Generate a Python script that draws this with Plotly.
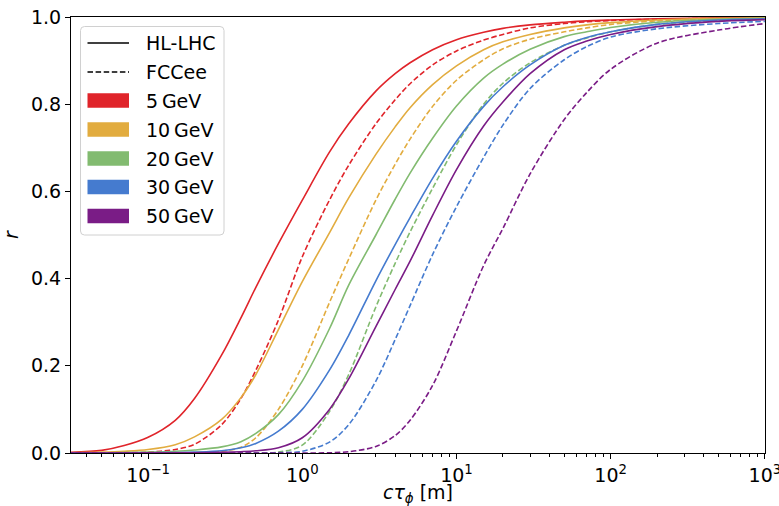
import plotly.graph_objects as go

# decay length c*tau [m] at which curves are read
ctau = [0.03, 0.05, 0.07, 0.1, 0.15, 0.2, 0.3, 0.4, 0.5, 0.7, 1, 1.5, 2, 3, 4, 5, 7,
        10, 15, 20, 30, 50, 70, 100, 200, 500, 1000]

masses = ["5\u2009GeV", "10\u2009GeV", "20\u2009GeV", "30\u2009GeV", "50\u2009GeV"]
colors = ["#e0242a", "#e2ac3f", "#82bb70", "#457bcf", "#7a1c86"]

# HL-LHC (solid)
hl_5 = [0.001, 0.006, 0.017, 0.036, 0.075, 0.125, 0.225, 0.31, 0.38, 0.48, 0.58, 0.69, 0.755,
        0.83, 0.87, 0.895, 0.925, 0.948, 0.965, 0.974, 0.982, 0.988, 0.991, 0.993, 0.996, 0.998, 0.999]
hl_10 = [0.0005, 0.002, 0.004, 0.008, 0.019, 0.037, 0.077, 0.127, 0.18, 0.283, 0.393, 0.505, 0.585,
         0.685, 0.748, 0.792, 0.845, 0.888, 0.925, 0.943, 0.96, 0.975, 0.982, 0.987, 0.993, 0.997, 0.998]
hl_20 = [0, 0.0003, 0.001, 0.002, 0.004, 0.007, 0.014, 0.026, 0.045, 0.088, 0.165, 0.285, 0.385,
         0.5, 0.582, 0.642, 0.722, 0.796, 0.86, 0.892, 0.926, 0.955, 0.966, 0.976, 0.988, 0.995, 0.997]
hl_30 = [0, 0, 0.0003, 0.0006, 0.0012, 0.002, 0.005, 0.012, 0.022, 0.05, 0.1, 0.19, 0.27,
         0.395, 0.478, 0.54, 0.63, 0.715, 0.795, 0.84, 0.89, 0.935, 0.953, 0.966, 0.983, 0.993, 0.996]
hl_50 = [0, 0, 0, 0.0002, 0.0004, 0.0007, 0.0015, 0.003, 0.005, 0.012, 0.035, 0.1, 0.17,
         0.29, 0.375, 0.44, 0.545, 0.65, 0.75, 0.805, 0.87, 0.925, 0.945, 0.96, 0.978, 0.99, 0.994]

# FCCee (dashed)
fcc_5 = [0, 0, 0.0005, 0.002, 0.008, 0.02, 0.065, 0.125, 0.19, 0.305, 0.45, 0.58, 0.66,
         0.755, 0.81, 0.847, 0.89, 0.922, 0.947, 0.96, 0.975, 0.985, 0.989, 0.992, 0.995, 0.997, 0.998]
fcc_10 = [0, 0, 0, 0, 0.0005, 0.001, 0.004, 0.013, 0.035, 0.1, 0.2, 0.345, 0.445,
          0.58, 0.662, 0.72, 0.795, 0.855, 0.902, 0.927, 0.949, 0.966, 0.975, 0.983, 0.991, 0.995, 0.997]
fcc_20 = [0, 0, 0, 0, 0, 0, 0, 0, 0.0005, 0.002, 0.018, 0.095, 0.18,
          0.335, 0.435, 0.507, 0.607, 0.707, 0.8, 0.848, 0.895, 0.935, 0.952, 0.966, 0.983, 0.992, 0.995]
fcc_30 = [0, 0, 0, 0, 0, 0, 0, 0, 0, 0.0005, 0.004, 0.025, 0.065,
          0.165, 0.26, 0.338, 0.455, 0.565, 0.678, 0.752, 0.836, 0.902, 0.932, 0.954, 0.973, 0.985, 0.99]
fcc_50 = [0, 0, 0, 0, 0, 0, 0, 0, 0, 0, 0, 0.0005, 0.003,
          0.015, 0.04, 0.075, 0.155, 0.28, 0.43, 0.515, 0.64, 0.765, 0.827, 0.88, 0.94, 0.97, 0.985]

hl_series = [hl_5, hl_10, hl_20, hl_30, hl_50]
fcc_series = [fcc_5, fcc_10, fcc_20, fcc_30, fcc_50]

FONT = "DejaVu Sans"
W, H = 779, 506
L, R, T, B = 71, 14, 17, 53
PW, PH = W - L - R, H - T - B
DASH = "5.5px,2.6px"

fig = go.Figure()
for m, c, hl, fc in zip(masses, colors, hl_series, fcc_series):
    fig.add_trace(go.Scatter(x=ctau, y=hl, mode="lines", name=m + " HL-LHC",
                             line=dict(color=c, width=1.6, shape="spline", smoothing=0.9),
                             showlegend=False))
    fig.add_trace(go.Scatter(x=ctau, y=fc, mode="lines", name=m + " FCCee",
                             line=dict(color=c, width=1.6, dash=DASH, shape="spline", smoothing=0.9),
                             showlegend=False))


def fx(px):
    return (px - L) / PW


def fy(py):
    return (H - B - py) / PH


# legend (drawn manually to mimic matplotlib style)
x0, x1, y0, y1, rad = 80.5, 224, 26.5, 235, 4
rx, ry = rad / PW, rad / PH
path = (f"M {fx(x0)+rx},{fy(y0)} L {fx(x1)-rx},{fy(y0)} Q {fx(x1)},{fy(y0)} {fx(x1)},{fy(y0)-ry} "
        f"L {fx(x1)},{fy(y1)+ry} Q {fx(x1)},{fy(y1)} {fx(x1)-rx},{fy(y1)} "
        f"L {fx(x0)+rx},{fy(y1)} Q {fx(x0)},{fy(y1)} {fx(x0)},{fy(y1)+ry} "
        f"L {fx(x0)},{fy(y0)-ry} Q {fx(x0)},{fy(y0)} {fx(x0)+rx},{fy(y0)} Z")
shapes = [dict(type="path", path=path, xref="paper", yref="paper",
               fillcolor="rgba(255,255,255,0.8)", line=dict(color="#d0d0d0", width=1))]
annotations = []
entry_y = [43, 72, 100.5, 129.5, 158.5, 187, 216]
labels = ["HL-LHC", "FCCee"] + masses
for i, (yy, lab) in enumerate(zip(entry_y, labels)):
    if i == 0:
        shapes.append(dict(type="line", xref="paper", yref="paper", x0=fx(87.5), x1=fx(129),
                           y0=fy(yy), y1=fy(yy), line=dict(color="black", width=1.6)))
    elif i == 1:
        shapes.append(dict(type="line", xref="paper", yref="paper", x0=fx(87.5), x1=fx(129),
                           y0=fy(yy), y1=fy(yy), line=dict(color="black", width=1.6, dash=DASH)))
    else:
        shapes.append(dict(type="rect", xref="paper", yref="paper", x0=fx(87.5), x1=fx(129),
                           y0=fy(yy - 7.2), y1=fy(yy + 7.2), fillcolor=colors[i - 2], line=dict(width=0)))
    annotations.append(dict(text=lab, xref="paper", yref="paper", x=fx(144), y=fy(yy),
                            xanchor="left", yanchor="middle", showarrow=False,
                            font=dict(family=FONT, size=19, color="black")))

major_x = [0.1, 1, 10, 100, 1000]
major_x_text = ["10<sup>\u22121</sup>", "10<sup>0</sup>", "10<sup>1</sup>", "10<sup>2</sup>", "10<sup>3</sup>"]
minor_x = [k * 10.0 ** e for e in range(-2, 3) for k in range(2, 10) if 0.0316 < k * 10.0 ** e < 1000]
y_ticks = [0, 0.2, 0.4, 0.6, 0.8, 1.0]
y_text = ["0.0", "0.2", "0.4", "0.6", "0.8", "1.0"]

fig.update_layout(
    width=W, height=H,
    margin=dict(l=L, r=R, t=T, b=B, autoexpand=False),
    plot_bgcolor="white", paper_bgcolor="white",
    font=dict(family=FONT, size=19, color="black"),
    shapes=shapes, annotations=annotations,
    showlegend=False,
    xaxis=dict(type="log", range=[-1.5, 3.0008], tickvals=major_x, ticktext=major_x_text,
               ticks="outside", ticklen=5, tickwidth=1, tickcolor="black", ticklabeloverflow="allow",
               minor=dict(tickvals=minor_x, ticks="outside", ticklen=3, tickwidth=0.8, tickcolor="black", showgrid=False),
               showgrid=False, zeroline=False, showline=True, linecolor="black", linewidth=1, mirror=True,
               tickfont=dict(family=FONT, size=19),
               title=dict(text="<i>c\u03c4</i><sub><i>\u03d5</i></sub> [m]", font=dict(family=FONT, size=19), standoff=4)),
    yaxis=dict(range=[0, 1.0], tickvals=y_ticks, ticktext=y_text,
               ticks="outside", ticklen=5, tickwidth=1, tickcolor="black",
               showgrid=False, zeroline=False, showline=True, linecolor="black", linewidth=1, mirror=True,
               tickfont=dict(family=FONT, size=19),
               title=dict(text="<i>r</i>", font=dict(family=FONT, size=19), standoff=8)),
)

fig.write_html("out.html", config={"displayModeBar": False},
               post_script="document.body.style.margin='0px';document.body.style.padding='0px';")
